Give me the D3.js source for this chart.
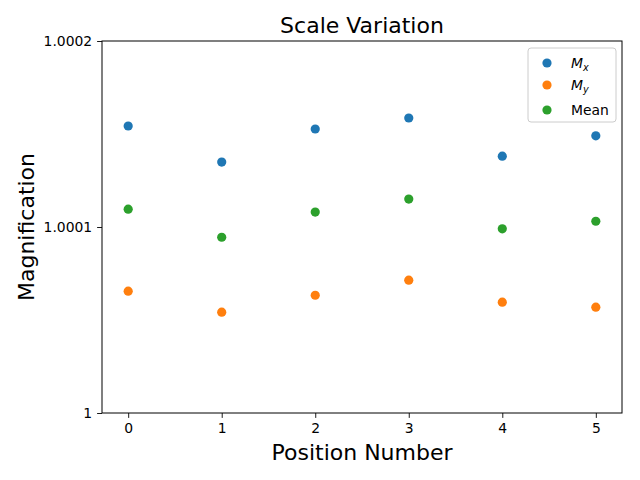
<!DOCTYPE html>
<html>
<head>
<meta charset="utf-8">
<script src="https://cdn.jsdelivr.net/npm/d3@7"></script>
<style>
  body { margin: 0; background: #fff; }
  svg { display: block; font-family: "DejaVu Sans", sans-serif; }
</style>
</head>
<body>
<div id="chart"></div>
<script>
// values
var positions = [0, 1, 2, 3, 4, 5];
var mx = [1.0001543, 1.0001349, 1.0001527, 1.0001586, 1.0001381, 1.0001490];
var my = [1.0000655, 1.0000542, 1.0000633, 1.0000714, 1.0000596, 1.0000569];
var mean = [1.0001096, 1.0000945, 1.0001080, 1.0001150, 1.0000990, 1.0001031];
var yTicks = [1, 1.0001, 1.0002];
var yTickLabels = ["1", "1.0001", "1.0002"];
var xTicks = [0, 1, 2, 3, 4, 5];

var width = 640, height = 480;
var plotL = 102, plotR = 622, plotT = 41, plotB = 413;

var svg = d3.select("#chart").append("svg")
  .attr("width", width).attr("height", height);

var x = d3.scaleLinear().domain([-0.28, 5.28]).range([plotL, plotR]);
var y = d3.scaleLinear().domain([1, 1.0002]).range([plotB, plotT]);

// axes
var xAxis = d3.axisBottom(x).tickValues(xTicks).tickSize(4.9).tickPadding(4.9)
  .tickFormat(d3.format("d"));
var gx = svg.append("g").attr("transform", "translate(0," + plotB + ")").call(xAxis);
var yAxis = d3.axisLeft(y).tickValues(yTicks).tickSize(4.9).tickPadding(4.9)
  .tickFormat(function(d, i){ return yTickLabels[i]; });
var gy = svg.append("g").attr("transform", "translate(" + plotL + ",0)").call(yAxis);

[gx, gy].forEach(function(g){
  g.select(".domain").remove();
  g.selectAll(".tick line").attr("stroke", "#000").attr("stroke-width", 0.9);
  g.selectAll(".tick text").attr("fill", "#000")
    .style("font-size", "13.9px").style("font-family", "DejaVu Sans");
});

// frame
svg.append("rect")
  .attr("x", plotL).attr("y", plotT)
  .attr("width", plotR - plotL).attr("height", plotB - plotT)
  .attr("fill", "none").attr("stroke", "#000").attr("stroke-width", 1);

// series
var series = [
  { name: "Mx", values: mx, color: "#1f77b4" },
  { name: "My", values: my, color: "#ff7f0e" },
  { name: "Mean", values: mean, color: "#2ca02c" }
];

series.forEach(function(s){
  svg.append("g").selectAll("circle")
    .data(s.values)
    .enter().append("circle")
      .attr("cx", function(d, i){ return x(positions[i]); })
      .attr("cy", function(d){ return y(d); })
      .attr("r", 4.6)
      .attr("fill", s.color);
});

// titles
svg.append("text")
  .attr("x", (plotL + plotR) / 2).attr("y", 33)
  .attr("text-anchor", "middle")
  .style("font-size", "22px")
  .text("Scale Variation");

svg.append("text")
  .attr("x", (plotL + plotR) / 2).attr("y", 460)
  .attr("text-anchor", "middle")
  .style("font-size", "22px")
  .text("Position Number");

svg.append("text")
  .attr("transform", "translate(34," + (plotT + plotB) / 2 + ") rotate(-90)")
  .attr("text-anchor", "middle")
  .style("font-size", "22px")
  .text("Magnification");

// legend
var lg = svg.append("g");
lg.append("rect")
  .attr("x", 528).attr("y", 48).attr("width", 88).attr("height", 74)
  .attr("rx", 3).attr("fill", "#fff").attr("fill-opacity", 0.8)
  .attr("stroke", "#cccccc").attr("stroke-width", 1);

var rowsY = [63, 85, 110];
series.forEach(function(s, i){
  lg.append("circle")
    .attr("cx", 547).attr("cy", rowsY[i]).attr("r", 4.6).attr("fill", s.color);
  var t = lg.append("text")
    .attr("x", 571).attr("y", rowsY[i] + 5)
    .style("font-size", "13.9px");
  if (s.name === "Mean") {
    t.text("Mean");
  } else {
    t.append("tspan").style("font-style", "italic").text("M");
    t.append("tspan").attr("dy", 3).style("font-size", "9.7px").style("font-style", "italic")
      .text(s.name === "Mx" ? "x" : "y");
  }
});
</script>
</body>
</html>
